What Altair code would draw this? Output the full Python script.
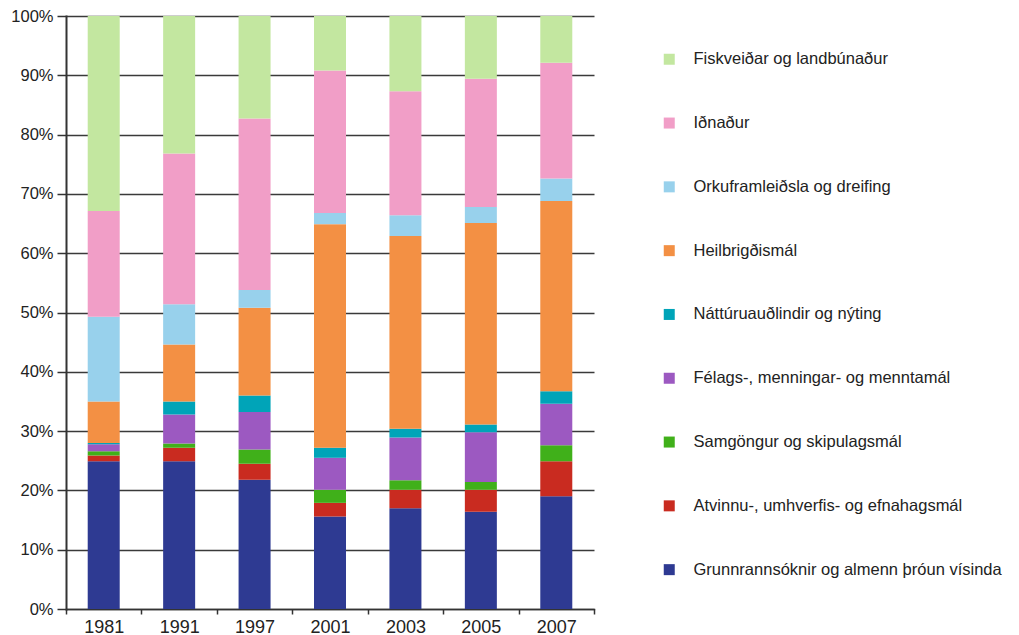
import altair as alt
import pandas as pd

years = ["1981", "1991", "1997", "2001", "2003", "2005", "2007"]

# categories from bottom of stack to top
categories = [
    "Grunnrannsóknir og almenn þróun vísinda",
    "Atvinnu-, umhverfis- og efnahagsmál",
    "Samgöngur og skipulagsmál",
    "Félags-, menningar- og menntamál",
    "Náttúruauðlindir og nýting",
    "Heilbrigðismál",
    "Orkuframleiðsla og dreifing",
    "Iðnaður",
    "Fiskveiðar og landbúnaður",
]
colors = ["#2E3A92", "#C92B20", "#40B01A", "#9C59C1", "#00A4B8",
          "#F39044", "#98D1EC", "#F19EC7", "#C3E7A0"]

grunnrannsoknir = [24.9, 24.9, 21.8, 15.6, 17.0, 16.4, 19.0]
atvinnu = [1.0, 2.3, 2.7, 2.3, 3.1, 3.7, 5.9]
samgongur = [0.7, 0.7, 2.4, 2.2, 1.6, 1.3, 2.7]
felags = [1.2, 4.9, 6.3, 5.4, 7.2, 8.4, 7.0]
natturu = [0.2, 2.2, 2.8, 1.7, 1.5, 1.3, 2.1]
heilbrigdi = [7.0, 9.6, 14.8, 37.7, 32.5, 34.0, 32.1]
orku = [14.3, 6.8, 3.0, 1.9, 3.5, 2.7, 3.8]
idnadur = [17.8, 25.4, 28.9, 24.0, 20.9, 21.6, 19.5]
fiskveidar = [32.9, 23.2, 17.3, 9.2, 12.7, 10.6, 7.9]

series = [grunnrannsoknir, atvinnu, samgongur, felags, natturu,
          heilbrigdi, orku, idnadur, fiskveidar]

rows = []
for rank, (cat, vals) in enumerate(zip(categories, series)):
    for yr, v in zip(years, vals):
        rows.append({"year": yr, "category": cat, "value": v, "rank": rank})
df = pd.DataFrame(rows)

FONT = "Liberation Sans"
legend_order = categories[::-1]
legend_colors = colors[::-1]

bars = alt.Chart(df).mark_bar(width=32).encode(
    x=alt.X("year:N", sort=years, title=None,
            scale=alt.Scale(paddingInner=0, paddingOuter=0),
            axis=alt.Axis(labelAngle=0, tickBand="extent", tickSize=5,
                          tickColor="#333", domainColor="#333", domainWidth=1.5,
                          tickWidth=1.5, labelFontSize=18, labelFont=FONT,
                          labelColor="#222", labelPadding=4)),
    y=alt.Y("value:Q", stack="zero", title=None,
            scale=alt.Scale(domain=[0, 100], nice=False),
            axis=alt.Axis(values=list(range(0, 101, 10)),
                          labelExpr="datum.value + '%'",
                          grid=True, gridColor="#3a3a3a", gridWidth=1.5,
                          tickSize=9, tickColor="#333", tickWidth=1.5,
                          domainColor="#333", domainWidth=2,
                          labelFontSize=16.5, labelFont=FONT, labelColor="#222",
                          labelPadding=4)),
    color=alt.Color("category:N",
                    scale=alt.Scale(domain=legend_order, range=legend_colors),
                    legend=alt.Legend(title=None, orient="none",
                                      legendX=595, legendY=35,
                                      symbolType="square", symbolSize=121,
                                      symbolStrokeWidth=0,
                                      labelFontSize=16.5, labelFont=FONT,
                                      labelColor="#222", labelOffset=16,
                                      rowPadding=46.8, padding=0,
                                      labelLimit=400)),
    order=alt.Order("rank:Q", sort="ascending"),
)

chart = bars.properties(
    width=528, height=593,
    autosize=alt.AutoSizeParams(type="none"),
    padding={"left": 58, "top": 8, "right": 417, "bottom": 30},
).configure_view(stroke=None).configure_axis(domainCap="square")

chart.save("out.html", embed_options={"renderer": "svg", "actions": False})
